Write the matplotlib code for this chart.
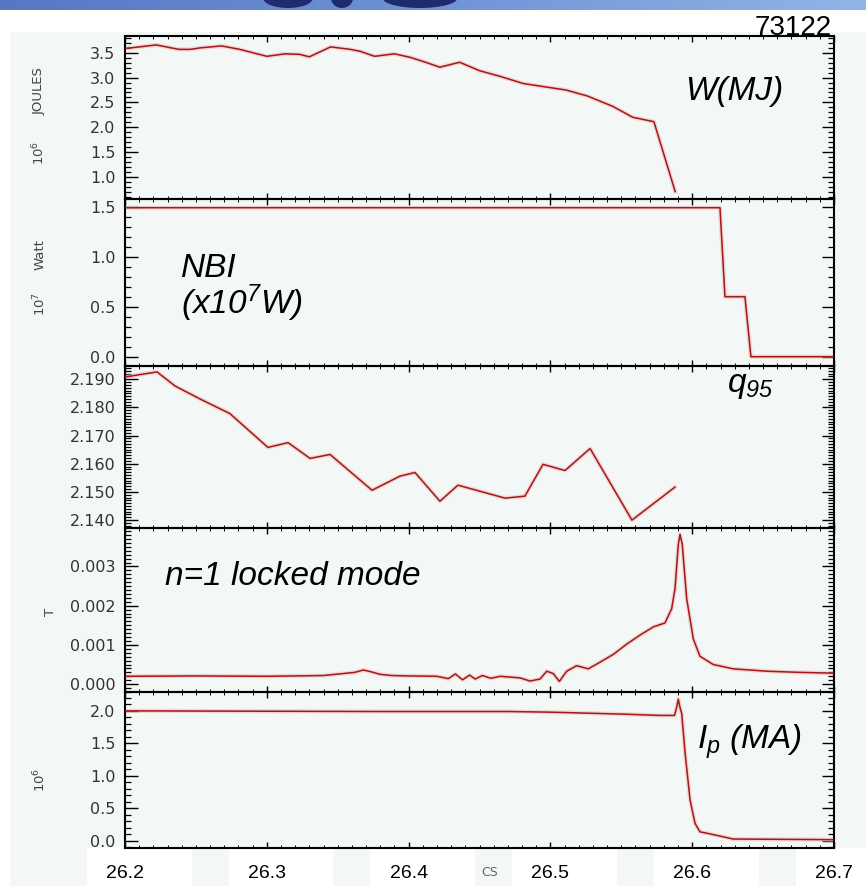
import matplotlib
matplotlib.use("Agg")
import matplotlib.pyplot as plt
import matplotlib.transforms as mtransforms
import numpy as np
from matplotlib.patches import Rectangle, Ellipse
from matplotlib.ticker import MultipleLocator, FormatStrFormatter

plt.rcParams["mathtext.fontset"] = "custom"
plt.rcParams["mathtext.it"] = "Liberation Sans:italic"
plt.rcParams["mathtext.rm"] = "Liberation Sans:italic"

# stored energy W (MJ)
w_time = [26.200, 26.207, 26.222, 26.238, 26.246, 26.253, 26.268, 26.281, 26.300, 26.313,
          26.323, 26.330, 26.345, 26.359, 26.366, 26.376, 26.390, 26.401, 26.412, 26.422,
          26.436, 26.450, 26.464, 26.481, 26.497, 26.511, 26.526, 26.544, 26.558, 26.573,
          26.588]
w_mj = [3.59, 3.61, 3.66, 3.57, 3.57, 3.60, 3.64, 3.57, 3.43, 3.48,
        3.47, 3.42, 3.62, 3.57, 3.53, 3.43, 3.48, 3.41, 3.31, 3.21,
        3.31, 3.14, 3.03, 2.88, 2.81, 2.75, 2.63, 2.42, 2.20, 2.11,
        0.70]

# NBI power (1e7 W)
nbi_time = [26.200, 26.6196, 26.6231, 26.6372, 26.6414, 26.700]
nbi_power = [1.49, 1.49, 0.60, 0.60, 0.00, 0.00]

# q95
q_time = [26.200, 26.2226, 26.2353, 26.2529, 26.274, 26.3008, 26.315, 26.3305, 26.3446,
          26.3742, 26.3939, 26.4045, 26.4221, 26.4348, 26.468, 26.482, 26.4948, 26.5103,
          26.528, 26.5575, 26.5878]
q95 = [2.1908, 2.1926, 2.1876, 2.1830, 2.1778, 2.1658, 2.1675, 2.1619, 2.1633,
       2.1506, 2.1556, 2.1569, 2.1467, 2.1524, 2.1478, 2.1485, 2.1598, 2.1576,
       2.1654, 2.1400, 2.1517]

# n=1 locked mode amplitude (1e-3 T)
lm_time = [26.200, 26.250, 26.300, 26.340, 26.362, 26.368, 26.373, 26.380, 26.388, 26.400,
           26.420, 26.428, 26.433, 26.438, 26.443, 26.447, 26.452, 26.458,
           26.4645, 26.4786, 26.4856, 26.4927, 26.4974, 26.502, 26.5063, 26.5115, 26.5185, 26.5267,
           26.535, 26.5444, 26.5538, 26.5632, 26.5726, 26.5808, 26.5855, 26.5879, 26.5902, 26.5914,
           26.593, 26.5961, 26.6008, 26.6055, 26.6149, 26.629, 26.6526, 26.6763, 26.700]
lm_mT = [0.20, 0.21, 0.20, 0.22, 0.30, 0.36, 0.32, 0.25, 0.22, 0.21,
         0.20, 0.14, 0.26, 0.11, 0.23, 0.13, 0.22, 0.15,
         0.20, 0.16, 0.08, 0.13, 0.33, 0.27, 0.07, 0.33, 0.47, 0.39,
         0.56, 0.76, 1.02, 1.25, 1.46, 1.56, 1.92, 2.44, 3.56, 3.82,
         3.56, 2.18, 1.15, 0.71, 0.50, 0.39, 0.33, 0.30, 0.28]

# plasma current Ip (MA)
ip_time = [26.200, 26.380, 26.470, 26.500, 26.551, 26.577, 26.5875, 26.5890, 26.5902, 26.5914,
           26.5926, 26.5950, 26.5985, 26.6020, 26.6055, 26.6102, 26.6217, 26.6288, 26.700]
ip_ma = [2.00, 1.99, 1.99, 1.98, 1.95, 1.93, 1.93, 2.05, 2.18, 2.05,
         1.96, 1.35, 0.63, 0.27, 0.14, 0.12, 0.065, 0.03, 0.02]

x_ticks = [26.2, 26.3, 26.4, 26.5, 26.6, 26.7]

W, H = 866, 886
fig = plt.figure(figsize=(W / 100, H / 100), dpi=100)

# light page background and header banner
fig.add_artist(Rectangle((10 / W, 0), 1 - 10 / W, 1 - 32 / H, transform=fig.transFigure,
                         facecolor="#f3f7f5", edgecolor="none", zorder=-3))
bax = fig.add_axes([0, 1 - 10 / H, 1, 10 / H], zorder=-1)
grad = np.linspace(0, 1, 256)[None, :]
cmap = matplotlib.colors.LinearSegmentedColormap.from_list("band", ["#5677c4", "#6f93d6", "#93b4e6"])
bax.imshow(grad, aspect="auto", cmap=cmap, extent=[0, W, 0, 10])
for cx, ww in [(288, 50), (342, 22), (420, 75)]:
    bax.add_patch(Ellipse((cx, 12), ww, 20, facecolor="#1d2d6b", edgecolor="none", clip_on=True))
bax.set_xlim(0, W)
bax.set_ylim(0, 10)
bax.axis("off")

left, right = 125, 834
bounds = [(36, 199), (199, 366), (366, 528), (528, 692), (692, 848)]
axes = []
for top, bot in bounds:
    ax = fig.add_axes([left / W, 1 - bot / H, (right - left) / W, (bot - top) / H])
    ax.set_facecolor("none")
    axes.append(ax)

series = [
    (w_time, w_mj, (0.55, 3.84), 0.5, 0.1, "%.1f"),
    (nbi_time, nbi_power, (-0.093, 1.577), 0.5, 0.1, "%.1f"),
    (q_time, q95, (2.1372, 2.1947), 0.01, 0.001, "%.3f"),
    (lm_time, np.array(lm_mT) * 1e-3, (-0.0002, 0.00398), 0.001, 0.0001, "%.3f"),
    (ip_time, ip_ma, (-0.108, 2.29), 0.5, 0.1, "%.1f"),
]

for i, (ax, (t, v, ylim, maj, mnr, fmt)) in enumerate(zip(axes, series)):
    ax.plot(t, v, color="#f2b8b8", lw=3.0, alpha=0.55, zorder=2)
    ax.plot(t, v, color="#a31818", lw=1.1, zorder=3)
    ax.set_xlim(26.2, 26.7)
    ax.set_ylim(*ylim)
    ax.xaxis.set_major_locator(MultipleLocator(0.1))
    ax.xaxis.set_minor_locator(MultipleLocator(0.01))
    ax.yaxis.set_major_locator(MultipleLocator(maj))
    ax.yaxis.set_minor_locator(MultipleLocator(mnr))
    ax.yaxis.set_major_formatter(FormatStrFormatter(fmt))
    ax.tick_params(axis="y", which="major", direction="in", length=9, width=1,
                   left=True, right=True, labelsize=11.5, labelcolor="#333333", pad=7)
    ax.tick_params(axis="y", which="minor", direction="in", length=4.5, width=0.9,
                   left=True, right=True)
    ax.tick_params(axis="x", which="major", direction="in", length=4, width=1,
                   top=True, bottom=True, labelbottom=(i == 4))
    ax.tick_params(axis="x", which="minor", direction="in", length=2, width=0.7,
                   top=True, bottom=True)
    for lab in ax.get_yticklabels():
        lab.set_fontfamily("DejaVu Sans")
    for sp in ax.spines.values():
        sp.set_linewidth(1.5)
        sp.set_color("black")

ax5 = axes[4]
ax5.set_xticks(x_ticks)
ax5.set_xticklabels([f"{x:.1f}" for x in x_ticks], fontsize=14, fontfamily="Liberation Sans")
ax5.tick_params(axis="x", which="major", pad=12)

# white label boxes under the time axis
blend = mtransforms.blended_transform_factory(ax5.transData, fig.transFigure)
for x in x_ticks:
    fig.add_artist(Rectangle((x - 0.027, 0), 0.074, 38 / H, transform=blend,
                             facecolor="white", edgecolor="none", zorder=-2))
ax5.text(26.457, 1 - 873 / H, "CS", transform=blend, fontsize=9, color="#666666",
         ha="center", va="center", fontfamily="DejaVu Sans")

# panel annotations
big = dict(fontsize=24, fontstyle="italic", fontfamily="Liberation Sans", va="baseline")
axes[0].text(0.79, 0.607, "W(MJ)", transform=axes[0].transAxes, **big)
axes[1].text(0.079, 0.53, "NBI", transform=axes[1].transAxes, **big)
axes[1].text(0.079, 0.31, r"(x10$^{7}$W)", transform=axes[1].transAxes, **big)
axes[2].text(0.849, 0.84, r"$q_{95}$", transform=axes[2].transAxes, **big)
axes[3].text(0.056, 0.652, "n=1 locked mode", transform=axes[3].transAxes, **big)
axes[4].text(0.807, 0.64, r"$I_p$ (MA)", transform=axes[4].transAxes, **big)

# units on the left
small = dict(fontsize=9.5, color="#444444", rotation=90, ha="center", va="center",
             fontfamily="DejaVu Sans")
fig.text(39 / W, 1 - 91 / H, "JOULES", **small)
fig.text(39 / W, 1 - 153 / H, r"$\mathregular{10^6}$", **small)
fig.text(40 / W, 1 - 255 / H, "Watt", **small)
fig.text(40 / W, 1 - 304 / H, r"$\mathregular{10^7}$", **small)
fig.text(50 / W, 1 - 612 / H, "T", **small)
fig.text(40 / W, 1 - 780 / H, r"$\mathregular{10^6}$", **small)

fig.text(832 / W, 1 - 35 / H, "73122", fontsize=20, fontfamily="Liberation Sans",
         ha="right", va="baseline")

fig.savefig("out.png", dpi=100)
